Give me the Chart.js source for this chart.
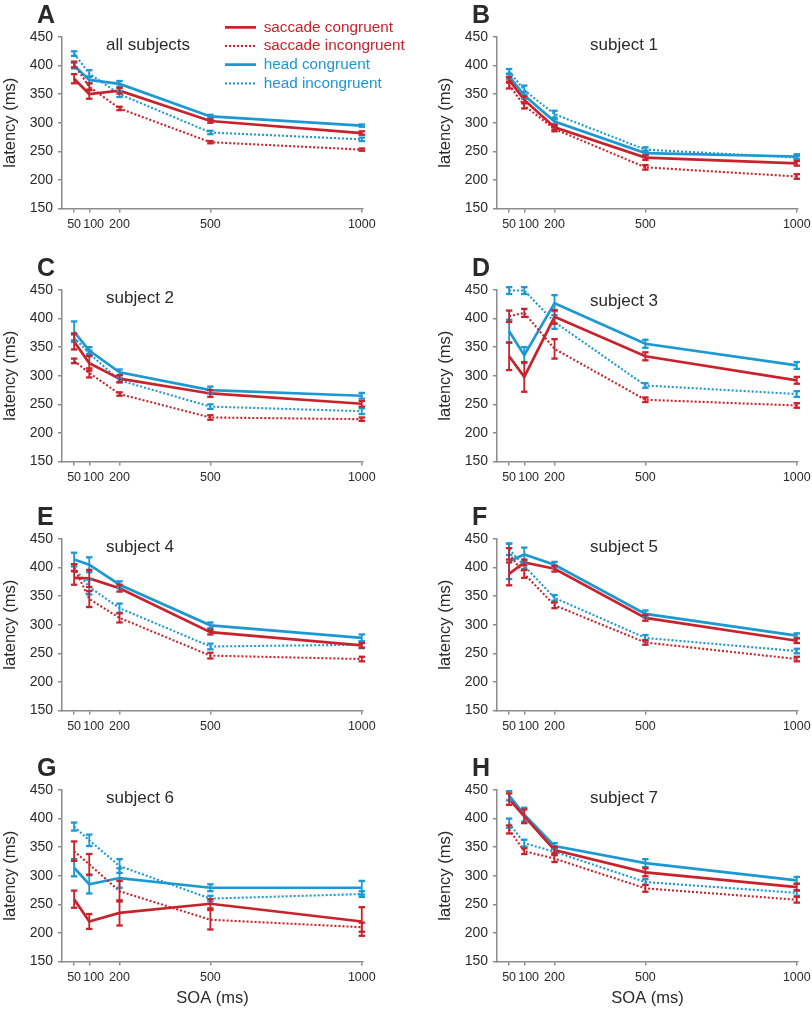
<!DOCTYPE html>
<html><head><meta charset="utf-8">
<script src="https://cdn.jsdelivr.net/npm/chart.js@4.4.1/dist/chart.umd.min.js"></script>
<style>
html,body{margin:0;padding:0;background:#fff;overflow:hidden;}
#wrap{position:relative;width:812px;height:1010px;overflow:hidden;background:#fff;}
#wrap canvas{position:absolute;}
</style></head><body><div id="wrap"></div>
<script>
// ---------- data ----------
const soa = [50, 100, 200, 500, 1000];
const xTickValues = [50, 100, 200, 500, 1000];
const yTickMin = 150, yTickMax = 450, yTickStep = 50;
const panelLetters = ['A', 'B', 'C', 'D', 'E', 'F', 'G', 'H'];
const panelSubtitles = ['all subjects', 'subject 1', 'subject 2', 'subject 3', 'subject 4', 'subject 5', 'subject 6', 'subject 7'];
const seriesLabels = ['saccade congruent', 'saccade incongruent', 'head congruent', 'head incongruent'];

const A_sc = [377, 350, 356, 303, 282], A_sc_err = [8, 8, 5, 3, 3];
const A_si = [402, 363, 325, 266, 253], A_si_err = [5, 6, 3, 2, 2];
const A_hc = [400, 375, 368, 311, 295], A_hc_err = [5, 6, 5, 3, 2];
const A_hi = [421, 386, 350, 283, 271], A_hi_err = [4, 6, 5, 3, 3];

const B_sc = [375, 340, 292, 239, 229], B_sc_err = [5, 6, 4, 4, 4];
const B_si = [366, 330, 289, 222, 206], B_si_err = [6, 5, 4, 4, 4];
const B_hc = [381, 348, 302, 247, 241], B_hc_err = [4, 6, 4, 4, 4];
const B_hi = [390, 357, 315, 253, 239], B_hi_err = [4, 8, 6, 4, 3];

const C_sc = [360, 322, 295, 269, 251], C_sc_err = [14, 13, 6, 6, 5];
const C_si = [326, 305, 268, 227, 224], C_si_err = [4, 8, 3, 4, 3];
const C_hc = [377, 344, 306, 275, 265], C_hc_err = [18, 6, 5, 6, 5];
const C_hi = [367, 339, 292, 246, 238], C_hi_err = [5, 5, 4, 4, 5];

const D_sc = [334, 298, 403, 334, 292], D_sc_err = [24, 26, 12, 7, 6];
const D_si = [404, 410, 347, 258, 248], D_si_err = [10, 7, 17, 4, 4];
const D_hc = [378, 336, 427, 356, 318], D_hc_err = [20, 14, 14, 7, 6];
const D_hi = [449, 449, 394, 283, 268], D_hi_err = [6, 6, 12, 4, 5];

const E_sc = [382, 381, 364, 287, 264], E_sc_err = [12, 15, 6, 4, 4];
const E_si = [400, 345, 312, 246, 240], E_si_err = [6, 14, 8, 5, 4];
const E_hc = [414, 405, 370, 299, 277], E_hc_err = [12, 13, 6, 5, 6];
const E_hi = [400, 366, 329, 262, 265], E_hi_err = [6, 13, 8, 5, 6];

const F_sc = [389, 409, 398, 312, 272], F_sc_err = [20, 5, 5, 5, 4];
const F_si = [424, 389, 334, 269, 240], F_si_err = [10, 7, 5, 4, 4];
const F_hc = [411, 423, 405, 319, 281], F_hc_err = [31, 12, 5, 6, 4];
const F_hi = [432, 403, 347, 277, 254], F_hi_err = [10, 6, 5, 5, 4];

const G_sc = [259, 220, 235, 251, 220], G_sc_err = [15, 13, 22, 8, 25];
const G_si = [343, 320, 273, 223, 210], G_si_err = [17, 18, 18, 17, 8];
const G_hc = [314, 285, 296, 279, 279], G_hc_err = [15, 16, 17, 6, 12];
const G_hi = [386, 362, 317, 260, 268], G_hi_err = [7, 10, 12, 5, 5];

const H_sc = [434, 404, 345, 306, 280], H_sc_err = [10, 12, 5, 7, 6];
const H_si = [381, 343, 330, 278, 258], H_si_err = [7, 5, 6, 6, 5];
const H_hc = [440, 407, 352, 322, 292], H_hc_err = [8, 12, 5, 7, 6];
const H_hi = [392, 357, 342, 289, 270], H_hi_err = [8, 6, 5, 5, 5];

const panelSeries = [
  [[A_sc, A_sc_err], [A_si, A_si_err], [A_hc, A_hc_err], [A_hi, A_hi_err]],
  [[B_sc, B_sc_err], [B_si, B_si_err], [B_hc, B_hc_err], [B_hi, B_hi_err]],
  [[C_sc, C_sc_err], [C_si, C_si_err], [C_hc, C_hc_err], [C_hi, C_hi_err]],
  [[D_sc, D_sc_err], [D_si, D_si_err], [D_hc, D_hc_err], [D_hi, D_hi_err]],
  [[E_sc, E_sc_err], [E_si, E_si_err], [E_hc, E_hc_err], [E_hi, E_hi_err]],
  [[F_sc, F_sc_err], [F_si, F_si_err], [F_hc, F_hc_err], [F_hi, F_hi_err]],
  [[G_sc, G_sc_err], [G_si, G_si_err], [G_hc, G_hc_err], [G_hi, G_hi_err]],
  [[H_sc, H_sc_err], [H_si, H_si_err], [H_hc, H_hc_err], [H_hi, H_hi_err]]
];

// ---------- styles / layout ----------
const RED = '#c8232c', BLUE = '#1c98d3';
const seriesColors = [RED, RED, BLUE, BLUE];
const seriesDash = [[], [2, 2], [], [2, 2]];
const seriesWidth = [2.7, 2.1, 2.7, 2.1];
const AXIS = '#8c8c8c', TEXT = '#2a2a2a';
const FONT = "'Liberation Sans', Arial, Helvetica, sans-serif";
const colLeft = [0, 435], colWidth = [435, 383];
const rowTop = [0, 253, 502, 753];
const canvasH = 257, areaTop = 37, areaH = 171.5, areaLeft = 62, areaRight = 363;
const letterX = 37;
const subDx = [44, 93, 44, 93, 44, 93, 44, 93];
const subDy = [13, 13, 13, 15.5, 13, 13, 13, 13];

Chart.defaults.font.family = FONT;
Chart.defaults.color = TEXT;

const subtitlePlugin = {
  id: 'panelSubtitle',
  afterDraw(chart, args, opts) {
    const {ctx, chartArea} = chart;
    ctx.save();
    ctx.font = '17px ' + FONT;
    ctx.fillStyle = TEXT;
    ctx.textAlign = 'left';
    ctx.textBaseline = 'alphabetic';
    ctx.fillText(opts.text, chartArea.left + opts.dx, chartArea.top + opts.dy);
    ctx.restore();
  }
};
// moves the panel letter (title block) and the legend block to their places
const blockPlacer = {
  id: 'blockPlacer',
  beforeDraw(chart, args, opts) {
    const tb = chart.titleBlock;
    if (tb && opts.titleX !== undefined) { tb.left = opts.titleX; }
    const lg = chart.legend;
    if (lg && opts.legendX !== undefined) {
      lg.left = opts.legendX; lg.top = opts.legendY;
      lg.right = opts.legendX + 260; lg.bottom = opts.legendY + 110;
    }
  }
};

const wrap = document.getElementById('wrap');

function xLabel(v) {
  // the reference sets the "100" label slightly right of its point
  return v === 100 ? '\u2002\u2009100' : String(v);
}

function makePanel(idx) {
  const col = idx % 2, row = Math.floor(idx / 2);
  const W = colWidth[col];
  const canvas = document.createElement('canvas');
  canvas.width = W; canvas.height = canvasH;
  canvas.style.left = colLeft[col] + 'px';
  canvas.style.top = rowTop[row] + 'px';
  canvas.style.width = W + 'px';
  canvas.style.height = canvasH + 'px';
  wrap.appendChild(canvas);

  const datasets = [];
  panelSeries[idx].forEach(([vals], k) => {
    datasets.push({
      label: seriesLabels[k],
      data: soa.map((x, i) => ({x: x, y: vals[i]})),
      borderColor: seriesColors[k], backgroundColor: seriesColors[k],
      borderWidth: seriesWidth[k], borderDash: seriesDash[k],
      pointRadius: 0, pointHoverRadius: 0, tension: 0, fill: false, clip: false, order: 1
    });
  });
  panelSeries[idx].forEach(([vals, errs], k) => {
    const pts = [];
    soa.forEach((x, i) => {
      pts.push({x: x, y: vals[i] - errs[i]}, {x: x, y: vals[i] + errs[i]}, {x: x, y: null});
    });
    datasets.push({
      label: seriesLabels[k] + ' SE',
      data: pts,
      borderColor: seriesColors[k], backgroundColor: seriesColors[k],
      borderWidth: 1.8, borderDash: [],
      pointStyle: 'line', pointRadius: 3.2, pointHoverRadius: 3.2, pointBorderWidth: 2.3,
      pointBorderColor: seriesColors[k], pointBackgroundColor: seriesColors[k],
      spanGaps: false, tension: 0, fill: false, clip: false, order: 0
    });
  });

  const isA = idx === 0;
  const plugins = {
    title: {
      display: true, text: panelLetters[idx], align: 'start', color: TEXT,
      font: {size: 25, weight: 'bold'}, padding: {top: 0.8, bottom: 6.2}
    },
    tooltip: {enabled: false},
    panelSubtitle: {text: panelSubtitles[idx], dx: subDx[idx], dy: subDy[idx]},
    legend: isA ? {
      display: true, position: 'chartArea', align: 'start',
      labels: {
        usePointStyle: true, pointStyle: 'line', pointStyleWidth: 31,
        boxHeight: 15.3, padding: 3.4, font: {size: 15.3}, textAlign: 'left',
        generateLabels: (chart) => chart.data.datasets.slice(0, 4).map((ds, i) => ({
          text: ds.label, fillStyle: ds.borderColor, strokeStyle: ds.borderColor,
          fontColor: ds.borderColor, lineWidth: ds.borderWidth, lineDash: ds.borderDash,
          lineCap: 'butt', pointStyle: 'line', rotation: 0, hidden: false,
          datasetIndex: i, textAlign: 'left'
        }))
      }
    } : {display: false},
    blockPlacer: isA ? {titleX: letterX, legendX: 221.6, legendY: 16.25} : {titleX: letterX}
  };

  new Chart(canvas, {
    type: 'line',
    data: {datasets: datasets},
    plugins: [subtitlePlugin, blockPlacer],
    options: {
      responsive: false, maintainAspectRatio: false, animation: false,
      devicePixelRatio: 1, events: [],
      layout: {padding: {left: 0, right: W - areaRight, top: 0, bottom: 0}},
      plugins: plugins,
      scales: {
        x: {
          type: 'linear', min: 10, max: 1004,
          afterBuildTicks: (sc) => { sc.ticks = xTickValues.map(v => ({value: v})); },
          afterFit: (sc) => { sc.height = canvasH - areaTop - areaH; },
          ticks: {autoSkip: false, maxRotation: 0, minRotation: 0, padding: 5, color: TEXT,
                  font: {size: 12.5}, callback: (v) => xLabel(v)},
          grid: {drawOnChartArea: false, drawTicks: true, tickLength: 4, color: AXIS, lineWidth: 1.5},
          border: {display: true, color: AXIS, width: 1.5},
          title: {display: row === 3, text: 'SOA (ms)', color: TEXT, font: {size: 16.5},
                  padding: {top: 0, bottom: 2}}
        },
        y: {
          type: 'linear', min: yTickMin, max: yTickMax,
          afterFit: (sc) => { sc.width = areaLeft; },
          ticks: {stepSize: yTickStep, padding: 5, color: TEXT, font: {size: 14}},
          grid: {drawOnChartArea: false, drawTicks: true, tickLength: 4, color: AXIS, lineWidth: 1.5},
          border: {display: true, color: AXIS, width: 1.5},
          title: {display: true, text: 'latency (ms)', color: TEXT, font: {size: 16.5},
                  padding: {top: 0.1, bottom: 0}}
        }
      }
    }
  });
}

for (let i = 0; i < 8; i++) makePanel(i);
</script>
</body></html>
